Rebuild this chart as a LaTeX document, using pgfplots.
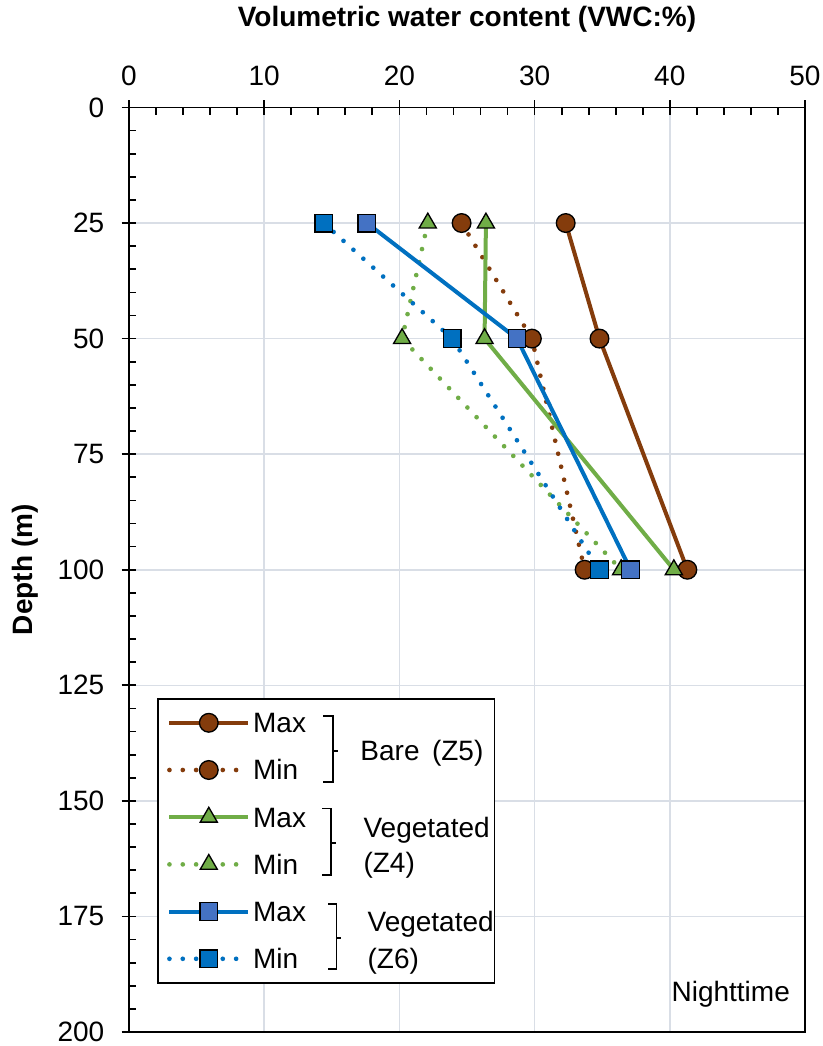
\documentclass[border=0pt]{standalone}
\usepackage{fontspec}
\setmainfont{Liberation Sans}
\usepackage{pgfplots}
\pgfplotsset{compat=1.18}
\definecolor{brn}{HTML}{843C0C}
\definecolor{grn}{HTML}{70AD47}
\definecolor{blu}{HTML}{0070C0}
\definecolor{bluM}{HTML}{4472C4}
\definecolor{gridc}{HTML}{D9DEE6}
\pgfplotsset{
  dotline/.style={line width=3.5pt, line cap=round, dash pattern=on 0pt off 10pt},
  solline/.style={line width=3pt},
}
\pgfplotstableread{
x y
32.3 25
34.8 50
41.3 100
}\bareMax
\pgfplotstableread{
x y
24.6 25
29.8 50
33.7 100
}\bareMin
\pgfplotstableread{
x y
26.4 25
26.3 50
40.3 100
}\vegFMax
\pgfplotstableread{
x y
22.1 25
20.2 50
36.4 100
}\vegFMin
\pgfplotstableread{
x y
17.6 25
28.7 50
37.1 100
}\vegSMax
\pgfplotstableread{
x y
14.4 25
23.9 50
34.8 100
}\vegSMin
\begin{document}
\begin{tikzpicture}[font=\fontsize{21}{25}\selectfont]
\begin{axis}[
  scale only axis, width=507pt, height=693.4pt,
  xmin=0, xmax=50, ymin=0, ymax=200, y dir=reverse,
  xtick={0,10,20,30,40,50}, ytick={0,25,...,200},
  minor x tick num=4, minor y tick num=4,
  xtick pos=upper, xticklabel pos=upper, ytick pos=lower, yticklabel pos=lower,
  tick align=inside,
  major tick length=11pt, minor tick length=5.5pt,
  every major x tick/.append style={yshift=5.5pt},
  every major y tick/.append style={xshift=-5.5pt},
  tick style={black, line width=1.3pt},
  axis line style={line width=1.3pt, black},
  grid=major, major grid style={gridc, line width=1.2pt},
  /pgf/number format/assume math mode=true,
  ticklabel style={font=\fontsize{21}{25}\selectfont},
  xticklabel style={yshift=13pt},
  yticklabel style={xshift=-15pt},
  xlabel={\textbf{Volumetric water content (VWC:\%)}},
  ylabel={\textbf{Depth (m)}},
  xlabel style={yshift=18pt},
  ylabel style={yshift=7.5pt},
  label style={font=\fontsize{21}{25}\selectfont},
  legend style={at={(axis cs:2.8,130.6)}, anchor=north west, draw=none, fill=none,
    inner sep=0pt, row sep=18.4pt, column sep=1pt,
    font=\fontsize{21}{25}\selectfont, cells={anchor=west},
    nodes={inner sep=1pt, text height=15pt, text depth=0pt}},
  legend image code/.code={\draw[mark repeat=2,mark phase=2] plot coordinates {(0pt,0pt) (29.5pt,0pt) (59pt,0pt)};},
]
\addplot[brn, solline, mark=*, mark size=7pt, mark options={solid, fill=brn, draw=black, line width=1pt}] table {\bareMax};
\addlegendentry{Max}
\addplot[brn, dotline, mark=*, mark size=7pt, mark options={solid, fill=brn, draw=black, line width=1pt}] table {\bareMin};
\addlegendentry{Min}
\addplot[grn, solline, mark=triangle*, mark size=7.4pt, mark options={solid, fill=grn, draw=black, line width=1pt}] table {\vegFMax};
\addlegendentry{Max}
\addplot[grn, dotline, mark=triangle*, mark size=7.4pt, mark options={solid, fill=grn, draw=black, line width=1pt}] table {\vegFMin};
\addlegendentry{Min}
\addplot[blu, solline, mark=square*, mark size=6.6pt, mark options={solid, fill=bluM, draw=black, line width=1pt}] table {\vegSMax};
\addlegendentry{Max}
\addplot[blu, dotline, mark=square*, mark size=6.6pt, mark options={solid, fill=blu, draw=black, line width=1pt}] table {\vegSMin};
\addlegendentry{Min}
% legend frame
\draw[line width=1.1pt, fill=white] (axis cs:2.15,128.0) rectangle (axis cs:27.05,189.4);
% brackets
\draw[line width=1.1pt] (axis cs:14.38,131.6) -- (axis cs:15.08,131.6) -- (axis cs:15.08,145.9) -- (axis cs:14.38,145.9);
\draw[line width=1.1pt] (axis cs:15.08,139.2) -- (axis cs:15.45,139.2);
\draw[line width=1.1pt] (axis cs:14.31,151.7) -- (axis cs:14.95,151.7) -- (axis cs:14.95,166.0) -- (axis cs:14.31,166.0);
\draw[line width=1.1pt] (axis cs:14.95,159.1) -- (axis cs:15.30,159.1);
\draw[line width=1.1pt] (axis cs:14.75,172.3) -- (axis cs:15.34,172.3) -- (axis cs:15.34,186.4) -- (axis cs:14.75,186.4);
\draw[line width=1.1pt] (axis cs:15.34,179.7) -- (axis cs:15.71,179.7);
\begin{scope}[every node/.style={inner sep=0pt, text height=15pt, text depth=0pt, anchor=west}]
\node at (axis cs:17.1,139.0) {Bare \,(Z5)};
\node at (axis cs:17.33,155.8) {Vegetated};
\node at (axis cs:17.33,163.4) {(Z4)};
\node at (axis cs:17.63,176.0) {Vegetated};
\node at (axis cs:17.63,184.0) {(Z6)};
\node[anchor=east] at (axis cs:48.9,191.3) {Nighttime};
\end{scope}
\coordinate (BL) at (axis cs:0,200);
\coordinate (TR) at (axis cs:50,0);
\end{axis}
\pgfresetboundingbox
\path ([xshift=-96.75pt,yshift=-10.5pt]BL) rectangle ([xshift=13.5pt,yshift=80.6pt]TR);
\end{tikzpicture}
\end{document}
